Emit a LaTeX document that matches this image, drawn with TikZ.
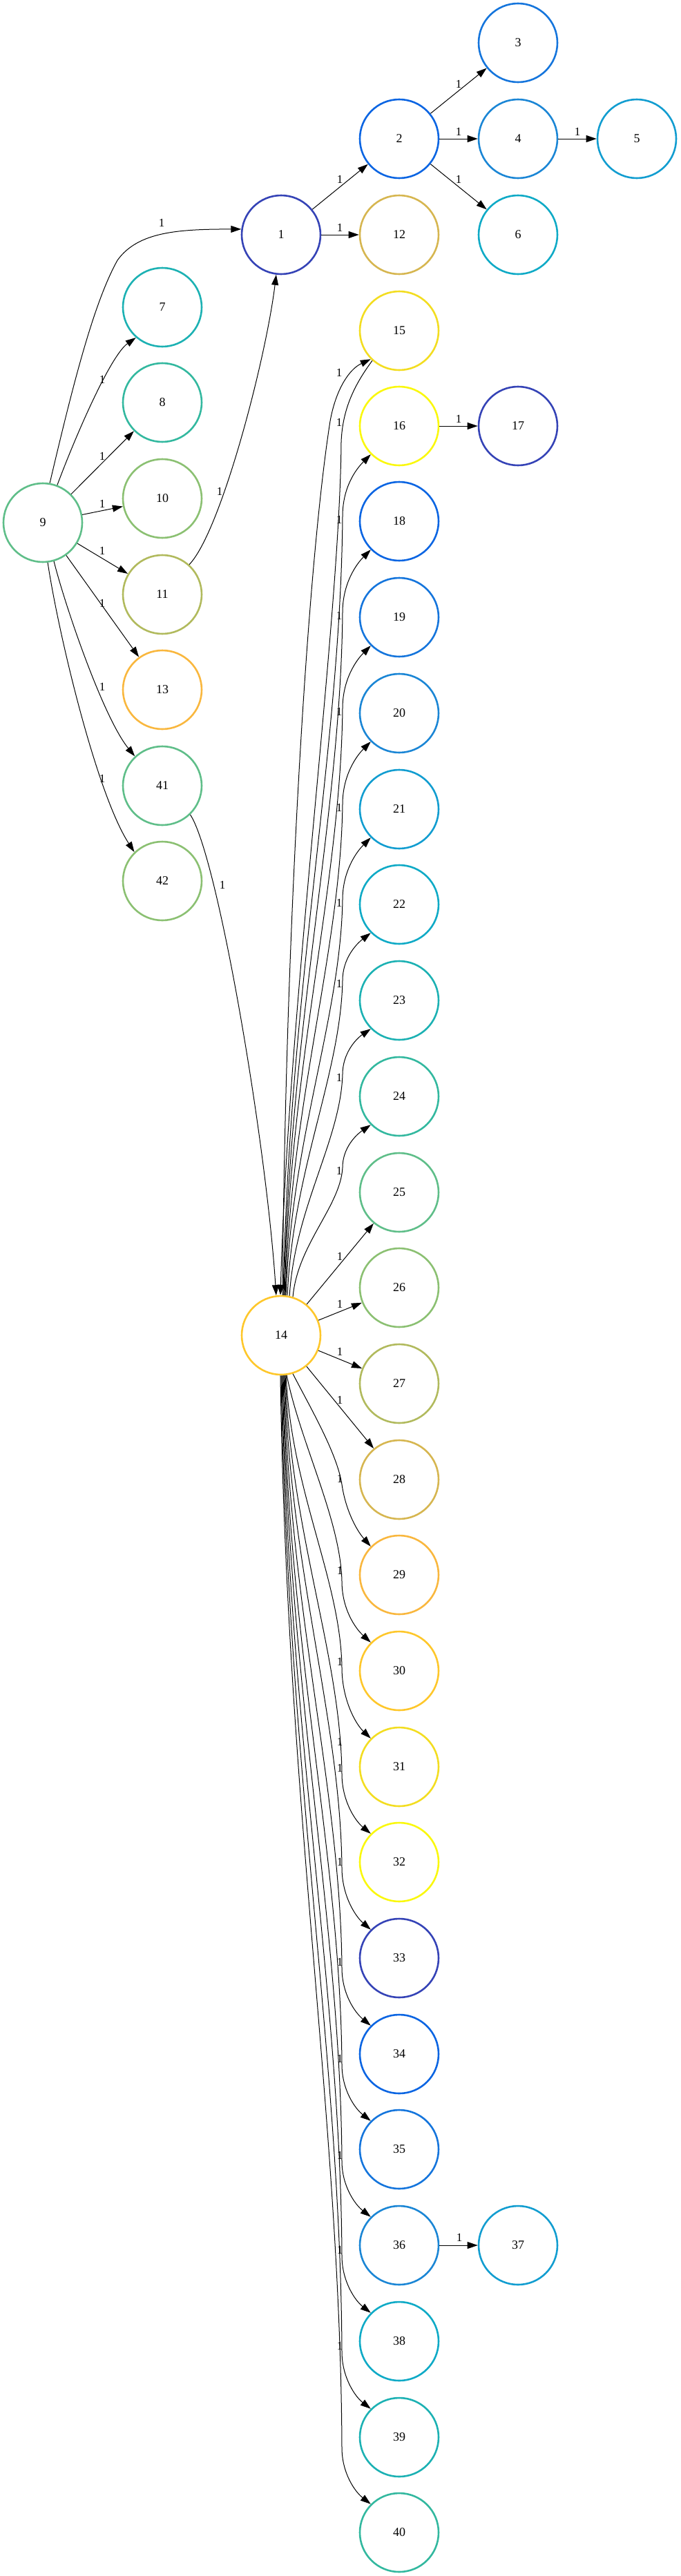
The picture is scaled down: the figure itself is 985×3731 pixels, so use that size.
\documentclass[tikz,border=0pt]{standalone}
\usepackage{fontspec}
\setmainfont{Liberation Serif}
\usepackage{tikz}
\usetikzlibrary{arrows.meta}
\definecolor{Indigo}{HTML}{3543B6}
\definecolor{RoyalBlue}{HTML}{0B65E2}
\definecolor{Azure}{HTML}{1575DC}
\definecolor{Cerulean}{HTML}{1B86D5}
\definecolor{Sky}{HTML}{129DD0}
\definecolor{Cyan}{HTML}{0FAAC6}
\definecolor{Teal}{HTML}{1CB1B3}
\definecolor{Jade}{HTML}{33B89F}
\definecolor{Sea}{HTML}{5FBE89}
\definecolor{Fern}{HTML}{8BC072}
\definecolor{Olive}{HTML}{B1BA5D}
\definecolor{Ochre}{HTML}{D6B650}
\definecolor{Saffron}{HTML}{F9B73E}
\definecolor{Amber}{HTML}{FEC72B}
\definecolor{Gold}{HTML}{F3DD21}
\definecolor{Lemon}{HTML}{FAF80E}

\begin{document}
\begin{tikzpicture}[
  x=0.5pt, y=-0.5pt,
  vertex/.style={circle, draw, line width=1.3pt, minimum size=57pt, inner sep=0pt, font=\fontsize{9}{10}\selectfont},
  link/.style={-{Triangle[length=7.5pt, width=5pt]}, line width=0.5pt, draw=black},
  weight/.style={font=\fontsize{8.5}{9}\selectfont, inner sep=0pt}
]
\useasboundingbox (0,0) rectangle (985,3731);

% left part
\node[vertex, draw=Sea] (n9) at (62,757) {9};
\node[vertex, draw=Teal] (n7) at (235,445) {7};
\node[vertex, draw=Jade] (n8) at (235,583) {8};
\node[vertex, draw=Fern] (n10) at (235,722) {10};
\node[vertex, draw=Olive] (n11) at (235,861) {11};
\node[vertex, draw=Saffron] (n13) at (235,999) {13};
\node[vertex, draw=Sea] (n41) at (235,1138) {41};
\node[vertex, draw=Fern] (n42) at (235,1276) {42};

% upper tree
\node[vertex, draw=Indigo] (n1) at (407,340) {1};
\node[vertex, draw=RoyalBlue] (n2) at (578,201) {2};
\node[vertex, draw=Azure] (n3) at (750,62) {3};
\node[vertex, draw=Cerulean] (n4) at (750,201) {4};
\node[vertex, draw=Sky] (n5) at (922,201) {5};
\node[vertex, draw=Cyan] (n6) at (750,340) {6};
\node[vertex, draw=Ochre] (n12) at (578,340) {12};

% hub and its column
\node[vertex, draw=Amber] (n14) at (407,1934) {14};
\node[vertex, draw=Gold] (n15) at (578,479) {15};
\node[vertex, draw=Lemon] (n16) at (578,617) {16};
\node[vertex, draw=Indigo] (n17) at (750,617) {17};
\node[vertex, draw=RoyalBlue] (n18) at (578,755) {18};
\node[vertex, draw=Azure] (n19) at (578,894) {19};
\node[vertex, draw=Cerulean] (n20) at (578,1033) {20};
\node[vertex, draw=Sky] (n21) at (578,1172) {21};
\node[vertex, draw=Cyan] (n22) at (578,1310) {22};
\node[vertex, draw=Teal] (n23) at (578,1449) {23};
\node[vertex, draw=Jade] (n24) at (578,1588) {24};
\node[vertex, draw=Sea] (n25) at (578,1727) {25};
\node[vertex, draw=Fern] (n26) at (578,1865) {26};
\node[vertex, draw=Olive] (n27) at (578,2004) {27};
\node[vertex, draw=Ochre] (n28) at (578,2143) {28};
\node[vertex, draw=Saffron] (n29) at (578,2281) {29};
\node[vertex, draw=Amber] (n30) at (578,2420) {30};
\node[vertex, draw=Gold] (n31) at (578,2559) {31};
\node[vertex, draw=Lemon] (n32) at (578,2697) {32};
\node[vertex, draw=Indigo] (n33) at (578,2836) {33};
\node[vertex, draw=RoyalBlue] (n34) at (578,2975) {34};
\node[vertex, draw=Azure] (n35) at (578,3113) {35};
\node[vertex, draw=Cerulean] (n36) at (578,3252) {36};
\node[vertex, draw=Sky] (n37) at (750,3252) {37};
\node[vertex, draw=Cyan] (n38) at (578,3391) {38};
\node[vertex, draw=Teal] (n39) at (578,3530) {39};
\node[vertex, draw=Jade] (n40) at (578,3668) {40};

% edges out of 9
\draw[link] (n9.80) .. controls (105,560) and (135,440) .. (170,377) .. controls (200,335) and (260,332) .. (n1.172);
\draw[link] (n9.69) .. controls (110,630) and (160,515) .. (n7.229);
\draw[link] (n9) -- (n8);
\draw[link] (n9) -- (n10);
\draw[link] (n9) -- (n11);
\draw[link] (n9) -- (n13);
\draw[link] (n9.-74) .. controls (95,880) and (150,1040) .. (n41.133);
\draw[link] (n9.-83) .. controls (85,920) and (140,1150) .. (n42.134);
\node[weight] (l9-1) at (234,323) {1};
\node[weight] (l9-7) at (148,550) {1};
\node[weight] (l9-8) at (148,661) {1};
\node[weight] (l9-10) at (148,730) {1};
\node[weight] (l9-11) at (148,798) {1};
\node[weight] (l9-13) at (148,874) {1};
\node[weight] (l9-41) at (148,995) {1};
\node[weight] (l9-42) at (148,1128) {1};

\draw[link] (n11.48) .. controls (320,770) and (385,520) .. (n1.263);
\draw[link] (n41.-46) .. controls (315,1240) and (385,1650) .. (n14.97);
\node[weight] (l11-1) at (318,712) {1};
\node[weight] (l41-14) at (322,1282) {1};

% upper tree edges
\draw[link] (n1) -- (n2);
\draw[link] (n1) -- (n12);
\draw[link] (n2) -- (n3);
\draw[link] (n2) -- (n4);
\draw[link] (n2) -- (n6);
\draw[link] (n4) -- (n5);
\draw[link] (n16) -- (n17);
\draw[link] (n36) -- (n37);
\node[weight] (l1-2) at (492,260) {1};
\node[weight] (l1-12) at (492,330) {1};
\node[weight] (l2-3) at (664,122) {1};
\node[weight] (l2-4) at (664,191) {1};
\node[weight] (l2-6) at (664,260) {1};
\node[weight] (l4-5) at (836,191) {1};
\node[weight] (l16-17) at (664,607) {1};
\node[weight] (l36-37) at (665,3241) {1};

% 14 upwards
\draw[link] (n14.88) .. controls (413,1350) and (445,820) .. (478,610) .. controls (486,565) and (505,535) .. (n15.225);
\draw[link] (n15.228) .. controls (515,555) and (496,590) .. (494,640) .. controls (492,900) and (418,1450) .. (n14.91);
\draw[link] (n14.87) .. controls (419,1425) and (493,1086) .. (496,748) .. controls (496,706) and (515,680) .. (n16.225);
\draw[link] (n14.86) .. controls (420,1480) and (493,1184) .. (496,887) .. controls (496,846) and (515,818) .. (n18.225);
\draw[link] (n14.85) .. controls (420,1536) and (493,1281) .. (496,1026) .. controls (496,985) and (515,957) .. (n19.225);
\draw[link] (n14.84) .. controls (421,1592) and (493,1378) .. (496,1165) .. controls (496,1124) and (515,1096) .. (n20.225);
\draw[link] (n14.83) .. controls (422,1647) and (493,1475) .. (496,1303) .. controls (496,1263) and (515,1235) .. (n21.225);
\draw[link] (n14.81) .. controls (424,1694) and (493,1557) .. (496,1420) .. controls (496,1389) and (515,1368) .. (n22.225);
\draw[link] (n14.78) .. controls (427,1748) and (493,1652) .. (496,1556) .. controls (496,1526) and (515,1505) .. (n23.225);
\draw[link] (n14.73) .. controls (431,1802) and (493,1747) .. (496,1691) .. controls (496,1663) and (515,1644) .. (n24.225);
\draw[link] (n14) -- (n25);
\draw[link] (n14) -- (n26);
\node[weight] (l14-15) at (491,540) {1};
\node[weight] (l15-14) at (491,612) {1};
\node[weight] (l14-16) at (491,753) {1};
\node[weight] (l14-18) at (491,892) {1};
\node[weight] (l14-19) at (491,1031) {1};
\node[weight] (l14-20) at (491,1170) {1};
\node[weight] (l14-21) at (491,1308) {1};
\node[weight] (l14-22) at (491,1425) {1};
\node[weight] (l14-23) at (491,1561) {1};
\node[weight] (l14-24) at (491,1696) {1};
\node[weight] (l14-25) at (492,1820) {1};
\node[weight] (l14-26) at (492,1889) {1};

% 14 downwards
\draw[link] (n14) -- (n27);
\draw[link] (n14) -- (n28);
\draw[link] (n14.-73) .. controls (450,2040) and (488,2105) .. (495,2150) .. controls (500,2185) and (515,2215) .. (n29.135);
\draw[link] (n14.-82) .. controls (435,2090) and (493,2201) .. (495,2290) .. controls (495,2330) and (514,2358) .. (n30.135);
\draw[link] (n14.-83) .. controls (422,2161) and (493,2288) .. (495,2415) .. controls (495,2460) and (514,2496) .. (n31.135);
\draw[link] (n14.-84) .. controls (421,2223) and (493,2396) .. (495,2569) .. controls (495,2608) and (514,2637) .. (n32.135);
\draw[link] (n14.-85) .. controls (420,2277) and (493,2491) .. (495,2705) .. controls (495,2745) and (514,2775) .. (n33.135);
\draw[link] (n14.-86) .. controls (419,2335) and (493,2593) .. (495,2850) .. controls (495,2888) and (514,2915) .. (n34.135);
\draw[link] (n14.-87) .. controls (418,2391) and (493,2691) .. (495,2990) .. controls (495,3027) and (514,3054) .. (n35.135);
\draw[link] (n14.-88) .. controls (418,2447) and (493,2789) .. (495,3130) .. controls (495,3166) and (514,3193) .. (n36.135);
\draw[link] (n14.-89) .. controls (417,2502) and (493,2885) .. (495,3267) .. controls (495,3304) and (514,3332) .. (n38.135);
\draw[link] (n14.-90) .. controls (416,2558) and (493,2982) .. (495,3406) .. controls (495,3443) and (514,3471) .. (n39.135);
\draw[link] (n14.-91) .. controls (415,2613) and (493,3079) .. (495,3545) .. controls (495,3582) and (514,3609) .. (n40.135);
\node[weight] (l14-27) at (492,1958) {1};
\node[weight] (l14-28) at (492,2028) {1};
\node[weight] (l14-29) at (492,2142) {1};
\node[weight] (l14-30) at (492,2275) {1};
\node[weight] (l14-31) at (492,2407) {1};
\node[weight] (l14-40) at (492,2523) {1};
\node[weight] (l14-32) at (492,2561) {1};
\node[weight] (l14-33) at (492,2697) {1};
\node[weight] (l14-34) at (492,2842) {1};
\node[weight] (l14-35) at (492,2982) {1};
\node[weight] (l14-36) at (492,3122) {1};
\node[weight] (l14-38) at (492,3259) {1};
\node[weight] (l14-39) at (492,3398) {1};
\end{tikzpicture}
\end{document}
